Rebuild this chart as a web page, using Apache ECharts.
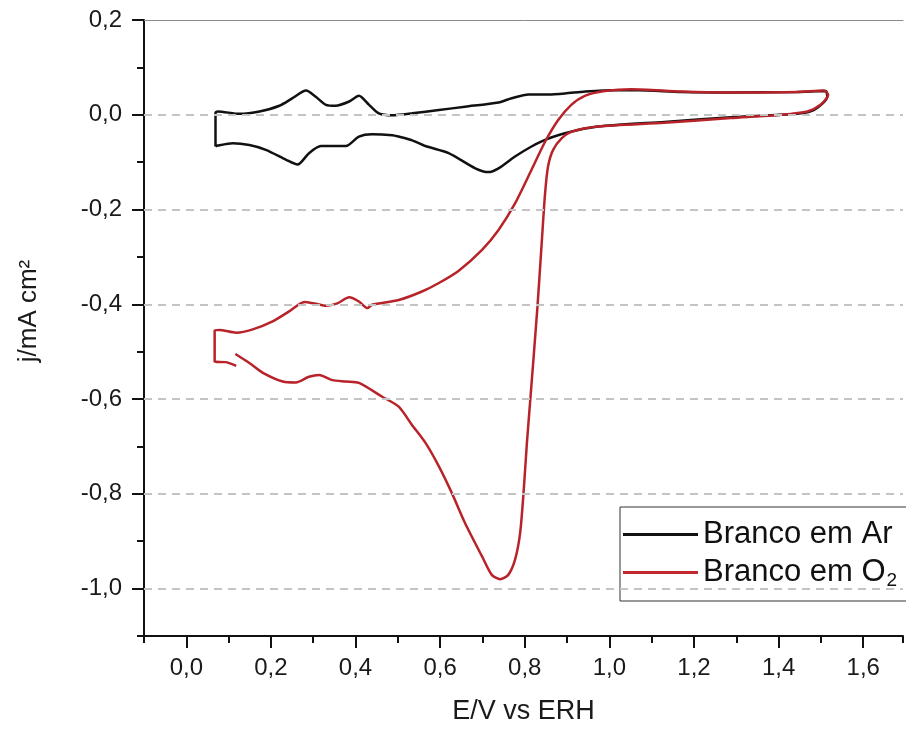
<!DOCTYPE html>
<html>
<head>
<meta charset="utf-8">
<script src="https://cdn.jsdelivr.net/npm/echarts@6/dist/echarts.min.js"></script>
<style>
  html, body { margin: 0; padding: 0; background: #fff; }
  #chart { width: 906px; height: 733px; }
</style>
</head>
<body>
<div id="chart"></div>
<script>
// ---- data (E in V vs ERH, j in mA cm^-2) ----
const arPotential = [0.069, 0.069, 0.074, 0.126, 0.173, 0.220, 0.251, 0.283, 0.306, 0.330, 0.353, 0.385, 0.408, 0.432, 0.455, 0.487, 0.534, 0.597, 0.659, 0.738, 0.769, 0.809, 0.856, 0.895, 0.943, 1.013, 1.068, 1.170, 1.287, 1.444, 1.511, 1.515, 1.484, 1.444, 1.287, 1.130, 0.973, 0.895, 0.848, 0.816, 0.777, 0.738, 0.714, 0.683, 0.620, 0.565, 0.534, 0.502, 0.487, 0.439, 0.408, 0.377, 0.345, 0.318, 0.290, 0.263, 0.236, 0.188, 0.149, 0.110, 0.074, 0.069];
const arCurrent   = [-0.067, 0.004, 0.007, 0.002, 0.007, 0.019, 0.035, 0.051, 0.038, 0.021, 0.019, 0.028, 0.040, 0.021, 0.003, -0.001, 0.003, 0.010, 0.017, 0.026, 0.035, 0.043, 0.043, 0.045, 0.049, 0.052, 0.052, 0.048, 0.047, 0.048, 0.050, 0.038, 0.010, 0.002, -0.005, -0.015, -0.025, -0.039, -0.053, -0.067, -0.088, -0.113, -0.121, -0.113, -0.081, -0.066, -0.054, -0.046, -0.043, -0.041, -0.046, -0.066, -0.066, -0.066, -0.081, -0.105, -0.095, -0.074, -0.064, -0.060, -0.065, -0.067];

const o2Potential = [0.118, 0.094, 0.067, 0.067, 0.078, 0.118, 0.157, 0.204, 0.243, 0.279, 0.306, 0.330, 0.357, 0.385, 0.408, 0.428, 0.439, 0.502, 0.557, 0.597, 0.644, 0.699, 0.738, 0.777, 0.816, 0.848, 0.879, 0.910, 0.942, 0.989, 1.052, 1.170, 1.287, 1.444, 1.507, 1.517, 1.499, 1.468, 1.405, 1.287, 1.130, 0.973, 0.910, 0.887, 0.867, 0.855, 0.848, 0.840, 0.830, 0.813, 0.805, 0.797, 0.789, 0.777, 0.761, 0.742, 0.722, 0.699, 0.659, 0.628, 0.597, 0.565, 0.533, 0.502, 0.463, 0.408, 0.377, 0.345, 0.314, 0.290, 0.259, 0.228, 0.180, 0.149, 0.116];
const o2Current   = [-0.530, -0.522, -0.521, -0.455, -0.454, -0.460, -0.453, -0.436, -0.415, -0.395, -0.399, -0.403, -0.398, -0.385, -0.394, -0.408, -0.401, -0.391, -0.373, -0.355, -0.329, -0.285, -0.243, -0.187, -0.116, -0.057, -0.011, 0.021, 0.040, 0.050, 0.054, 0.049, 0.047, 0.048, 0.051, 0.042, 0.021, 0.007, 0.000, -0.007, -0.017, -0.025, -0.036, -0.050, -0.074, -0.109, -0.166, -0.271, -0.405, -0.602, -0.693, -0.799, -0.883, -0.939, -0.971, -0.980, -0.971, -0.932, -0.862, -0.799, -0.742, -0.692, -0.654, -0.616, -0.595, -0.566, -0.563, -0.560, -0.549, -0.553, -0.565, -0.563, -0.544, -0.524, -0.505];

const seriesNames = ['Branco em Ar', 'Branco em O2'];
const xMajorTicks = [0.0, 0.2, 0.4, 0.6, 0.8, 1.0, 1.2, 1.4, 1.6];
const yMajorTicks = [0.2, 0.0, -0.2, -0.4, -0.6, -0.8, -1.0];
const gridLevels  = [0.0, -0.2, -0.4, -0.6, -0.8, -1.0];
const xRange = [-0.1, 1.694];
const yRange = [-1.1, 0.2];

// ---- chart ----
const FONT = "'Liberation Sans', Arial, Helvetica, sans-serif";
const zip = (a, b) => a.map((v, i) => [v, b[i]]);
const fmt = v => {
  const r = Math.round(v * 10);
  if (r % 2 !== 0) return '';
  return (r / 10).toFixed(1).replace('.', ',');
};

const chart = echarts.init(document.getElementById('chart'), null, { renderer: 'canvas' });
chart.setOption({
  animation: false,
  backgroundColor: '#fff',
  grid: { left: 144, right: 0, top: 20, bottom: 97, containLabel: false },
  xAxis: [
    {
      type: 'value', min: xRange[0], max: xRange[1], interval: 0.1, position: 'bottom',
      axisLine: { show: true, onZero: false, lineStyle: { color: '#111', width: 2 } },
      axisTick: { show: true, inside: false, length: 7, lineStyle: { color: '#111', width: 2 } },
      axisLabel: { formatter: fmt, fontSize: 24, fontFamily: FONT, color: '#1a1a1a', margin: 20, showMinLabel: true, showMaxLabel: true },
      splitLine: { show: false },
      name: 'E/V vs ERH', nameLocation: 'middle', nameGap: 62,
      nameTextStyle: { fontSize: 27, fontFamily: FONT, color: '#1a1a1a' }
    },
    {
      type: 'value', min: xRange[0], max: xRange[1], position: 'bottom',
      axisLine: { show: false, onZero: false },
      axisTick: { show: true, length: 12, customValues: xMajorTicks, lineStyle: { color: '#111', width: 2 } },
      axisLabel: { show: false },
      splitLine: { show: false }
    },
    {
      type: 'value', min: xRange[0], max: xRange[1], position: 'top',
      axisLine: { show: true, onZero: false, lineStyle: { color: '#8a8a8a', width: 1 } },
      axisTick: { show: false }, axisLabel: { show: false }, splitLine: { show: false }
    }
  ],
  yAxis: [
    {
      type: 'value', min: yRange[0], max: yRange[1], interval: 0.1, position: 'left',
      axisLine: { show: true, onZero: false, lineStyle: { color: '#111', width: 2 } },
      axisTick: { show: true, length: 7, lineStyle: { color: '#111', width: 2 } },
      axisLabel: { formatter: fmt, fontSize: 24, fontFamily: FONT, color: '#1a1a1a', margin: 22 },
      splitLine: { show: false },
      name: 'j/mA cm²', nameLocation: 'middle', nameGap: 102,
      nameTextStyle: { fontSize: 26, fontFamily: FONT, color: '#1a1a1a', padding: [0, 0, 0, 34] }
    },
    {
      type: 'value', min: yRange[0], max: yRange[1], position: 'left',
      axisLine: { show: false, onZero: false },
      axisTick: { show: true, length: 12, customValues: yMajorTicks, lineStyle: { color: '#111', width: 2 } },
      axisLabel: { show: false },
      splitLine: { show: false }
    }
  ],
  legend: {
    orient: 'vertical', left: 620, top: 507,
    padding: [11, 60, 11, 3], itemGap: 4,
    itemWidth: 75, itemHeight: 3, icon: 'rect',
    backgroundColor: '#fff', borderColor: '#333', borderWidth: 1, borderRadius: 0,
    data: seriesNames,
    formatter: name => name.replace('O2', 'O{sub|2}'),
    textStyle: {
      fontSize: 31, fontFamily: FONT, color: '#111', lineHeight: 33,
      rich: { sub: { fontSize: 19, fontFamily: FONT, color: '#111', lineHeight: 33, padding: [16, 0, 0, 1] } }
    }
  },
  series: [
    {
      name: seriesNames[0], type: 'line', xAxisIndex: 0, yAxisIndex: 0,
      data: zip(arPotential, arCurrent), showSymbol: false, smooth: 0.25,
      color: '#111', lineStyle: { color: '#111', width: 2.5 },
      markLine: {
        silent: true, symbol: ['none', 'none'], label: { show: false },
        lineStyle: { color: '#c4c4c4', width: 1.8, type: [8, 6] },
        data: gridLevels.map(v => ({ yAxis: v }))
      },
      z: 2
    },
    {
      name: seriesNames[1], type: 'line', xAxisIndex: 0, yAxisIndex: 0,
      data: zip(o2Potential, o2Current), showSymbol: false, smooth: 0.25,
      color: '#c2272d', lineStyle: { color: '#b8232a', width: 2.5 },
      z: 3
    }
  ]
});
</script>
</body>
</html>
